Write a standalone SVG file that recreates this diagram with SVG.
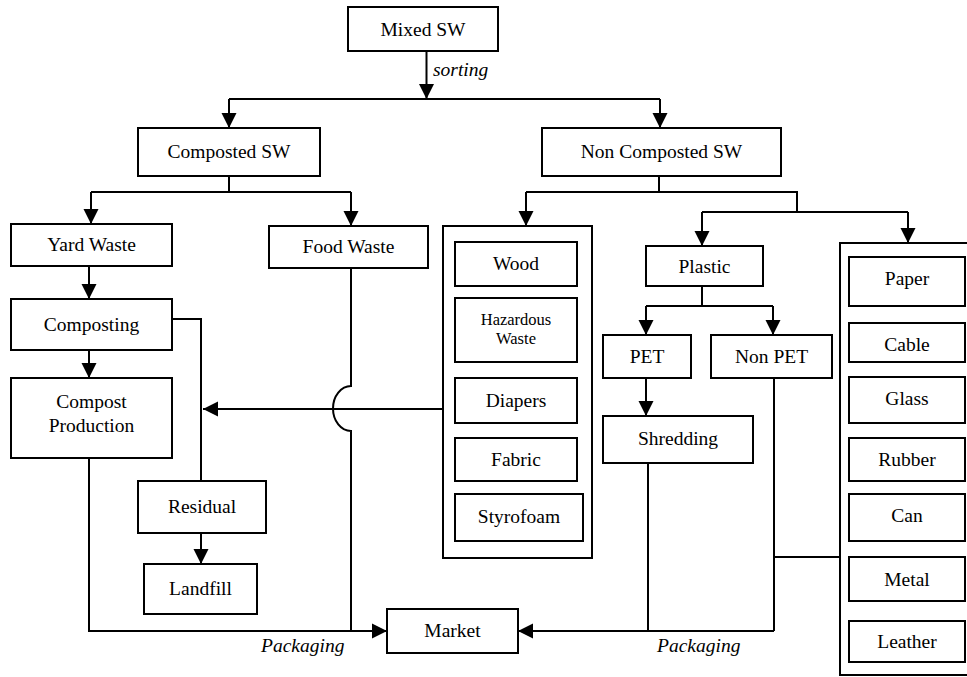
<svg xmlns="http://www.w3.org/2000/svg" width="967" height="677" viewBox="0 0 967 677">
<style>
  .box{fill:#fff;stroke:#000;stroke-width:2}
  .cont{fill:none;stroke:#000;stroke-width:2}
  .t{font-family:"Liberation Serif","Times New Roman",serif;font-size:19.5px;fill:#000;text-anchor:middle}
  .s{font-size:16.5px}
  .lbl{font-family:"Liberation Serif","Times New Roman",serif;font-size:19.5px;font-style:italic;fill:#000}
  .c{fill:none;stroke:#000;stroke-width:2}
  .a{fill:none;stroke:#000;stroke-width:2;marker-end:url(#arr)}
</style>
<defs>
  <marker id="arr" markerUnits="userSpaceOnUse" markerWidth="16" markerHeight="16" viewBox="0 0 16 16" refX="15" refY="8" orient="auto">
    <path d="M0,0.5 L15,8 L0,15.5 Z" fill="#000"/>
  </marker>
</defs>
<rect width="967" height="677" fill="#fff"/>

<g id="connectors">
  <path class="a" d="M426.5,51 V99"/>
  <path class="c" d="M229,99 H660"/>
  <path class="a" d="M229,99 V128"/>
  <path class="a" d="M660,99 V128"/>

  <path class="c" d="M229,176 V192 M91,192 H351"/>
  <path class="a" d="M91,192 V224"/>
  <path class="a" d="M351,192 V226"/>

  <path class="c" d="M659,176 V192 M526,192 H797 V212 M702,212 H908"/>
  <path class="a" d="M526,192 V226"/>
  <path class="a" d="M702,212 V246"/>
  <path class="a" d="M908,212 V243"/>

  <path class="a" d="M89,266 V299"/>
  <path class="a" d="M89,350 V378"/>
  <path class="c" d="M172,319 H201 V481"/>
  <path class="a" d="M201,533 V564"/>

  <path class="a" d="M443,409 H203"/>
  <path class="c" d="M351,268 V386 A18,22.5 0 0 0 351,431 V631"/>
  <path class="a" d="M89,458 V631 H387"/>

  <path class="c" d="M702,286 V306 M646,306 H773"/>
  <path class="a" d="M646,306 V335"/>
  <path class="a" d="M773,306 V335"/>
  <path class="a" d="M646,378 V416"/>

  <path class="c" d="M648,463 V631 M774,378 V631 M774,557 H840"/>
  <path class="a" d="M774,631 H518"/>

  <text class="lbl" x="433" y="76">sorting</text>
  <text class="lbl" x="261" y="652">Packaging</text>
  <text class="lbl" x="657" y="652">Packaging</text>
</g>

<g id="mixed-sw"><rect class="box" x="348" y="7" width="150" height="44"/><text class="t" x="423" y="36">Mixed SW</text></g>
<g id="composted-sw"><rect class="box" x="138" y="128" width="182" height="48"/><text class="t" x="229" y="158">Composted SW</text></g>
<g id="non-composted-sw"><rect class="box" x="542" y="128" width="239" height="48"/><text class="t" x="661.5" y="158">Non Composted SW</text></g>

<g id="yard-waste"><rect class="box" x="11" y="224" width="161" height="42"/><text class="t" x="91.5" y="251">Yard Waste</text></g>
<g id="food-waste"><rect class="box" x="269" y="226" width="159" height="42"/><text class="t" x="348.5" y="253">Food Waste</text></g>
<g id="composting"><rect class="box" x="11" y="299" width="161" height="51"/><text class="t" x="91.5" y="331">Composting</text></g>
<g id="compost-production"><rect class="box" x="11" y="378" width="161" height="80"/><text class="t" x="91.5" y="408">Compost</text><text class="t" x="91.5" y="432">Production</text></g>
<g id="residual"><rect class="box" x="138" y="481" width="128" height="52"/><text class="t" x="202" y="513">Residual</text></g>
<g id="landfill"><rect class="box" x="144" y="564" width="113" height="50"/><text class="t" x="200.5" y="595">Landfill</text></g>
<g id="market"><rect class="box" x="387" y="609" width="131" height="44"/><text class="t" x="452.5" y="637">Market</text></g>

<g id="non-compostable-group">
  <rect class="cont" x="443" y="226" width="149" height="332"/>
  <g id="wood"><rect class="box" x="455" y="242" width="122" height="44"/><text class="t" x="516" y="270">Wood</text></g>
  <g id="hazardous-waste"><rect class="box" x="455" y="298" width="122" height="64"/><text class="t s" x="516" y="325">Hazardous</text><text class="t s" x="516" y="344">Waste</text></g>
  <g id="diapers"><rect class="box" x="455" y="378" width="122" height="45"/><text class="t" x="516" y="407">Diapers</text></g>
  <g id="fabric"><rect class="box" x="455" y="438" width="122" height="43"/><text class="t" x="516" y="466">Fabric</text></g>
  <g id="styrofoam"><rect class="box" x="455" y="494" width="128" height="47"/><text class="t" x="519" y="523">Styrofoam</text></g>
</g>

<g id="plastic"><rect class="box" x="646" y="246" width="117" height="40"/><text class="t" x="704.5" y="273">Plastic</text></g>
<g id="pet"><rect class="box" x="603" y="335" width="88" height="43"/><text class="t" x="647" y="363">PET</text></g>
<g id="non-pet"><rect class="box" x="711" y="335" width="121" height="43"/><text class="t" x="771.5" y="363">Non PET</text></g>
<g id="shredding"><rect class="box" x="603" y="416" width="150" height="47"/><text class="t" x="678" y="445">Shredding</text></g>

<g id="recyclables-group">
  <rect class="cont" x="840" y="243" width="140" height="432"/>
  <g id="paper"><rect class="box" x="849" y="257" width="116" height="49"/><text class="t" x="907" y="285">Paper</text></g>
  <g id="cable"><rect class="box" x="849" y="323" width="116" height="39"/><text class="t" x="907" y="351">Cable</text></g>
  <g id="glass"><rect class="box" x="849" y="377" width="116" height="46"/><text class="t" x="907" y="405">Glass</text></g>
  <g id="rubber"><rect class="box" x="849" y="438" width="116" height="43"/><text class="t" x="907" y="466">Rubber</text></g>
  <g id="can"><rect class="box" x="849" y="494" width="116" height="47"/><text class="t" x="907" y="522">Can</text></g>
  <g id="metal"><rect class="box" x="849" y="557" width="116" height="44"/><text class="t" x="907" y="586">Metal</text></g>
  <g id="leather"><rect class="box" x="849" y="621" width="116" height="41"/><text class="t" x="907" y="648">Leather</text></g>
</g>
</svg>
